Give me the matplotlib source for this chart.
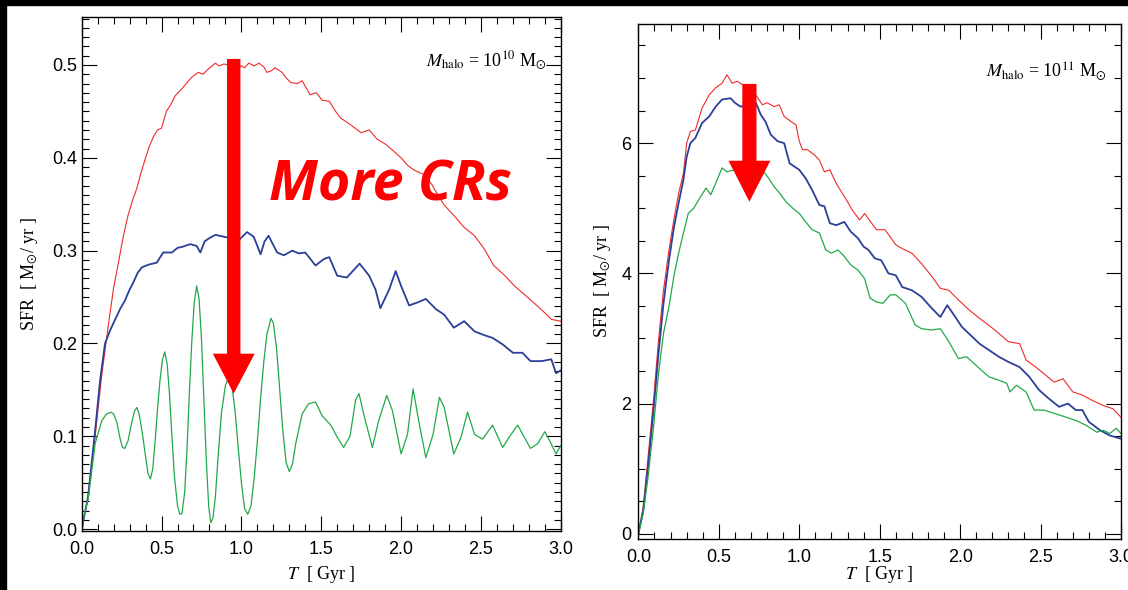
import matplotlib
matplotlib.use("Agg")
import matplotlib.pyplot as plt
from matplotlib.patches import Rectangle, FancyArrow
from matplotlib.ticker import MultipleLocator, FormatStrFormatter

plt.rcParams['mathtext.fontset'] = 'stix'

# ---- left panel: M_halo = 1e10
t_l_red = [0.0, 0.04, 0.084, 0.125, 0.167, 0.2, 0.23, 0.26, 0.29, 0.32, 0.345, 0.37, 0.40, 0.425, 0.45,
           0.475, 0.50, 0.53, 0.56, 0.586, 0.62, 0.65, 0.69, 0.73, 0.76, 0.795, 0.837, 0.86, 0.89, 0.92,
           0.95, 1.0, 1.02, 1.046, 1.08, 1.11, 1.14, 1.16, 1.19, 1.21, 1.255, 1.28, 1.31, 1.35, 1.38, 1.43,
           1.47, 1.506, 1.55, 1.59, 1.62, 1.68, 1.75, 1.8, 1.85, 1.9, 1.935, 2.0, 2.04, 2.08, 2.14, 2.19,
           2.23, 2.27, 2.33, 2.395, 2.46, 2.52, 2.58, 2.65, 2.71, 2.77, 2.83, 2.9, 2.94, 3.0]
sfr_l_red = [0.0, 0.035, 0.10, 0.165, 0.22, 0.26, 0.287, 0.315, 0.338, 0.355, 0.367, 0.383, 0.40, 0.413, 0.423,
             0.43, 0.432, 0.45, 0.458, 0.467, 0.473, 0.479, 0.487, 0.492, 0.490, 0.496, 0.502, 0.499, 0.501, 0.500,
             0.498, 0.499, 0.497, 0.502, 0.499, 0.502, 0.498, 0.492, 0.494, 0.497, 0.492, 0.486, 0.481, 0.480, 0.483, 0.468,
             0.470, 0.462, 0.461, 0.45, 0.443, 0.436, 0.427, 0.43, 0.42, 0.415, 0.41, 0.40, 0.392, 0.387, 0.382, 0.372,
             0.36, 0.349, 0.338, 0.325, 0.316, 0.302, 0.284, 0.273, 0.262, 0.253, 0.244, 0.233, 0.226, 0.224]

t_l_blue = [0.0, 0.04, 0.084, 0.115, 0.146, 0.18, 0.21, 0.24, 0.27, 0.3, 0.324, 0.35, 0.377, 0.42, 0.47, 0.51,
            0.565, 0.6, 0.628, 0.68, 0.72, 0.743, 0.77, 0.795, 0.837, 0.89, 0.94, 0.983, 1.035, 1.077, 1.1, 1.12,
            1.145, 1.17, 1.2, 1.224, 1.266, 1.318, 1.36, 1.4, 1.464, 1.517, 1.55, 1.6, 1.66, 1.74, 1.8, 1.84, 1.87,
            1.925, 1.966, 2.0, 2.05, 2.1, 2.155, 2.218, 2.27, 2.33, 2.395, 2.46, 2.52, 2.573, 2.636, 2.7, 2.76,
            2.81, 2.88, 2.94, 2.97, 3.0]
sfr_l_blue = [0.0, 0.035, 0.106, 0.16, 0.20, 0.215, 0.226, 0.237, 0.246, 0.258, 0.266, 0.276, 0.282, 0.285, 0.287, 0.298,
              0.298, 0.303, 0.304, 0.307, 0.305, 0.298, 0.31, 0.313, 0.317, 0.315, 0.313, 0.311, 0.32, 0.315, 0.305, 0.296,
              0.31, 0.316, 0.306, 0.298, 0.295, 0.30, 0.297, 0.298, 0.284, 0.291, 0.293, 0.273, 0.271, 0.286, 0.273, 0.258, 0.238,
              0.258, 0.278, 0.262, 0.241, 0.244, 0.248, 0.237, 0.231, 0.217, 0.224, 0.213, 0.209, 0.206, 0.199, 0.19, 0.19,
              0.181, 0.181, 0.183, 0.168, 0.171]

t_l_green = [0.0, 0.042, 0.084, 0.126, 0.155, 0.184, 0.2, 0.22, 0.24, 0.255, 0.27, 0.29, 0.31, 0.33, 0.345, 0.36,
             0.38, 0.4, 0.415, 0.43, 0.445, 0.46, 0.475, 0.49, 0.505, 0.52, 0.535, 0.55, 0.565, 0.58, 0.6, 0.615,
             0.628, 0.645, 0.66, 0.675, 0.69, 0.705, 0.72, 0.735, 0.75, 0.765, 0.78, 0.795, 0.808, 0.822, 0.837,
             0.855, 0.875, 0.9, 0.92, 0.94, 0.96, 0.98, 1.0, 1.02, 1.04, 1.06, 1.08, 1.1, 1.12, 1.14, 1.16, 1.185,
             1.2, 1.22, 1.24, 1.26, 1.28, 1.3, 1.32, 1.34, 1.38, 1.42, 1.464,
             1.506, 1.56, 1.6, 1.64, 1.68, 1.715, 1.736, 1.77, 1.82, 1.86, 1.91, 1.945, 2.0, 2.04, 2.075, 2.11, 2.155,
             2.2, 2.24, 2.27, 2.33, 2.375, 2.416, 2.46, 2.51, 2.573, 2.636, 2.68, 2.73, 2.81, 2.855, 2.9, 2.94, 2.97, 3.0]
sfr_l_green = [0.003, 0.034, 0.092, 0.117, 0.124, 0.126, 0.124, 0.115, 0.098, 0.088, 0.087, 0.095, 0.112, 0.127, 0.131, 0.124,
               0.103, 0.078, 0.06, 0.054, 0.065, 0.095, 0.13, 0.16, 0.182, 0.191, 0.178, 0.145, 0.1, 0.058, 0.025, 0.016,
               0.017, 0.04, 0.088, 0.15, 0.204, 0.245, 0.262, 0.248, 0.205, 0.14, 0.075, 0.025, 0.007, 0.012, 0.035,
               0.08, 0.125, 0.155, 0.163, 0.155, 0.128, 0.088, 0.05, 0.022, 0.016, 0.025, 0.055, 0.095, 0.14, 0.18, 0.21, 0.227,
               0.222, 0.195, 0.15, 0.105, 0.072, 0.062, 0.07, 0.092, 0.124, 0.135, 0.137,
               0.122, 0.112, 0.099, 0.088, 0.1, 0.139, 0.146, 0.121, 0.088, 0.117, 0.144, 0.128, 0.081, 0.102, 0.151, 0.117, 0.077,
               0.102, 0.142, 0.131, 0.081, 0.099, 0.126, 0.102, 0.097, 0.112, 0.088, 0.1, 0.112, 0.087, 0.092, 0.105, 0.092, 0.081, 0.09]

# ---- right panel: M_halo = 1e11
t_r_red = [0, 0.03, 0.06, 0.094, 0.125, 0.156, 0.19, 0.22, 0.25, 0.28, 0.3, 0.323, 0.354, 0.396, 0.44, 0.48, 0.52,
           0.55, 0.583, 0.615, 0.646, 0.69, 0.73, 0.77, 0.8, 0.844, 0.875, 0.906, 0.95, 0.98, 1.0, 1.02, 1.05, 1.094,
           1.125, 1.156, 1.19, 1.23, 1.26, 1.3, 1.33, 1.375, 1.406, 1.45, 1.48, 1.533, 1.6, 1.64, 1.7, 1.76, 1.825,
           1.877, 1.93, 1.99, 2.055, 2.12, 2.18, 2.24, 2.3, 2.37, 2.41, 2.47, 2.53, 2.585, 2.64, 2.7, 2.76, 2.82,
           2.89, 2.95, 3.0]
sfr_r_red = [0, 0.41, 1.18, 2.05, 2.97, 3.74, 4.36, 4.82, 5.23, 5.54, 6.0, 6.18, 6.2, 6.54, 6.74, 6.85, 6.92,
             7.05, 6.92, 6.95, 6.9, 6.85, 6.74, 6.59, 6.62, 6.56, 6.59, 6.41, 6.33, 6.28, 6.03, 5.9, 5.9, 5.82,
             5.74, 5.56, 5.59, 5.38, 5.26, 5.1, 4.97, 4.82, 4.92, 4.77, 4.67, 4.67, 4.44, 4.38, 4.31, 4.15, 3.95,
             3.77, 3.74, 3.59, 3.44, 3.31, 3.2, 3.08, 2.95, 2.92, 2.67, 2.56, 2.44, 2.33, 2.38, 2.18, 2.13, 2.05,
             1.97, 1.92, 1.79]

t_r_blue = [0, 0.03, 0.06, 0.094, 0.125, 0.156, 0.19, 0.22, 0.25, 0.28, 0.3, 0.323, 0.354, 0.396, 0.44, 0.48, 0.52,
            0.573, 0.6, 0.635, 0.68, 0.73, 0.76, 0.79, 0.823, 0.865, 0.906, 0.94, 0.97, 1.0, 1.04, 1.08, 1.125, 1.156,
            1.19, 1.23, 1.28, 1.32, 1.365, 1.4, 1.43, 1.47, 1.51, 1.554, 1.6, 1.64, 1.7, 1.76, 1.825, 1.877, 1.92,
            1.97, 2.01, 2.065, 2.12, 2.18, 2.24, 2.3, 2.37, 2.43, 2.49, 2.55, 2.615, 2.67, 2.72, 2.76, 2.8, 2.87,
            2.93, 3.0]
sfr_r_blue = [0, 0.36, 1.03, 1.9, 2.77, 3.54, 4.2, 4.69, 5.08, 5.44, 5.79, 6.0, 6.08, 6.31, 6.41, 6.56, 6.67,
              6.69, 6.62, 6.56, 6.6, 6.62, 6.44, 6.33, 6.13, 6.03, 6.0, 5.69, 5.64, 5.59, 5.46, 5.28, 5.05, 5.03,
              4.77, 4.74, 4.79, 4.64, 4.54, 4.41, 4.36, 4.23, 4.2, 4.0, 3.97, 3.79, 3.74, 3.64, 3.46, 3.33, 3.51,
              3.33, 3.18, 3.05, 2.92, 2.82, 2.72, 2.64, 2.56, 2.41, 2.21, 2.08, 1.95, 2.0, 1.9, 1.9, 1.72, 1.59,
              1.51, 1.46]

t_r_green = [0, 0.03, 0.06, 0.094, 0.125, 0.156, 0.19, 0.22, 0.25, 0.28, 0.31, 0.344, 0.375, 0.42, 0.45, 0.48,
             0.52, 0.55, 0.594, 0.64, 0.69, 0.74, 0.78, 0.81, 0.844, 0.885, 0.917, 0.96, 1.0, 1.04, 1.08, 1.125,
             1.165, 1.2, 1.24, 1.28, 1.32, 1.365, 1.406, 1.44, 1.48, 1.52, 1.565, 1.6, 1.66, 1.72, 1.76, 1.825,
             1.877, 1.93, 1.99, 2.04, 2.12, 2.18, 2.24, 2.29, 2.31, 2.35, 2.41, 2.46, 2.52, 2.585, 2.66, 2.72,
             2.78, 2.85, 2.89, 2.93, 2.97, 3.0]
sfr_r_green = [0, 0.31, 0.87, 1.64, 2.46, 3.08, 3.49, 3.95, 4.31, 4.62, 4.92, 5.0, 5.13, 5.31, 5.21, 5.38,
               5.62, 5.56, 5.59, 5.7, 5.6, 5.65, 5.56, 5.46, 5.33, 5.21, 5.1, 5.0, 4.92, 4.79, 4.67, 4.62,
               4.36, 4.31, 4.36, 4.26, 4.13, 4.05, 3.92, 3.62, 3.56, 3.54, 3.67, 3.67, 3.54, 3.21, 3.15, 3.13,
               3.15, 2.95, 2.69, 2.72, 2.54, 2.41, 2.36, 2.31, 2.18, 2.28, 2.18, 1.9, 1.9, 1.85, 1.79, 1.74,
               1.67, 1.56, 1.59, 1.54, 1.62, 1.54]

red = '#f02a2a'
blue = '#2c3f98'
green = '#22a84a'
arrow_red = '#ff0000'

serif = ['Liberation Serif', 'DejaVu Serif']
sans = ['Liberation Sans', 'DejaVu Sans']

W, H = 1128, 590
fig = plt.figure(figsize=(W / 100, H / 100), dpi=100, facecolor='white')
# black frame strips of the screenshot
fig.patches.append(Rectangle((0, 0), 6 / W, 1, transform=fig.transFigure, color='black', zorder=-1))
fig.patches.append(Rectangle((0, 1 - 5 / H), 1, 5 / H, transform=fig.transFigure, color='black', zorder=-1))


def px_axes(x0, x1, ytop, ybot):
    return fig.add_axes([x0 / W, 1 - ybot / H, (x1 - x0) / W, (ybot - ytop) / H])


def style(ax, ymajor, yminor, yfmt, ypad):
    ax.set_xlim(0, 3.0)
    ax.xaxis.set_major_locator(MultipleLocator(0.5))
    ax.xaxis.set_minor_locator(MultipleLocator(0.1))
    ax.xaxis.set_major_formatter(FormatStrFormatter('%.1f'))
    ax.yaxis.set_major_locator(MultipleLocator(ymajor))
    ax.yaxis.set_minor_locator(MultipleLocator(yminor))
    ax.yaxis.set_major_formatter(FormatStrFormatter(yfmt))
    ax.tick_params(which='both', direction='in', top=True, right=True, width=0.8, color='black')
    ax.tick_params(which='major', length=10.5)
    ax.tick_params(which='minor', length=5)
    ax.tick_params(axis='x', pad=7, labelsize=13)
    ax.tick_params(axis='y', pad=ypad, labelsize=13)
    for lab in ax.get_xticklabels() + ax.get_yticklabels():
        lab.set_family(sans)
    for s in ax.spines.values():
        s.set_linewidth(1.0)
    ax.set_xlabel(r'$T$  [ Gyr ]', fontsize=13, family=serif)
    ax.set_ylabel(r'SFR  [ M$_{\odot}$/ yr ]', fontsize=13, family=serif)


halo_fmt = r'$M_{{\rm halo}}$ = 10$^{{{}}}$ M$_{{\odot}}$'

# ---- left panel
ax1 = px_axes(81.7, 560.8, 16.7, 531)
ax1.plot(t_l_red, sfr_l_red, color=red, lw=0.8)
ax1.plot(t_l_blue, sfr_l_blue, color=blue, lw=1.3)
ax1.plot(t_l_green, sfr_l_green, color=green, lw=0.9)
ax1.set_ylim(-0.002, 0.552)
style(ax1, 0.1, 0.01, '%.1f', 3)
ax1.yaxis.set_label_coords(-0.087, 0.5)
ax1.xaxis.set_label_coords(0.5, -0.064)
ax1.text(0.97, 0.905, halo_fmt.format(10), transform=ax1.transAxes,
         ha='right', va='baseline', fontsize=13, family=serif)
ax1.add_patch(FancyArrow(0.952, 0.5065, 0, 0.146 - 0.5065, width=0.084, head_width=0.262,
                         head_length=0.043, length_includes_head=True, color=arrow_red, lw=0, zorder=5))
ax1.text(1.17, 0.354, 'More CRs', color=arrow_red, fontsize=40, fontweight='bold', fontstyle='italic',
         family=['Open Sans', 'DejaVu Sans'], ha='left', va='baseline', zorder=6)

# ---- right panel
ax2 = px_axes(638.4, 1121, 24, 539)
ax2.plot(t_r_red, sfr_r_red, color=red, lw=0.8)
ax2.plot(t_r_blue, sfr_r_blue, color=blue, lw=1.3)
ax2.plot(t_r_green, sfr_r_green, color=green, lw=0.9)
ax2.set_ylim(-0.08, 7.83)
style(ax2, 2, 0.5, '%d', 5)
ax2.yaxis.set_label_coords(-0.053, 0.5)
ax2.xaxis.set_label_coords(0.5, -0.049)
ax2.text(0.97, 0.896, halo_fmt.format(11), transform=ax2.transAxes,
         ha='right', va='baseline', fontsize=13, family=serif)
ax2.add_patch(FancyArrow(0.69, 6.91, 0, 5.1 - 6.91, width=0.088, head_width=0.26,
                         head_length=0.63, length_includes_head=True, color=arrow_red, lw=0, zorder=5))

fig.savefig('out.png', dpi=100, facecolor=fig.get_facecolor())
